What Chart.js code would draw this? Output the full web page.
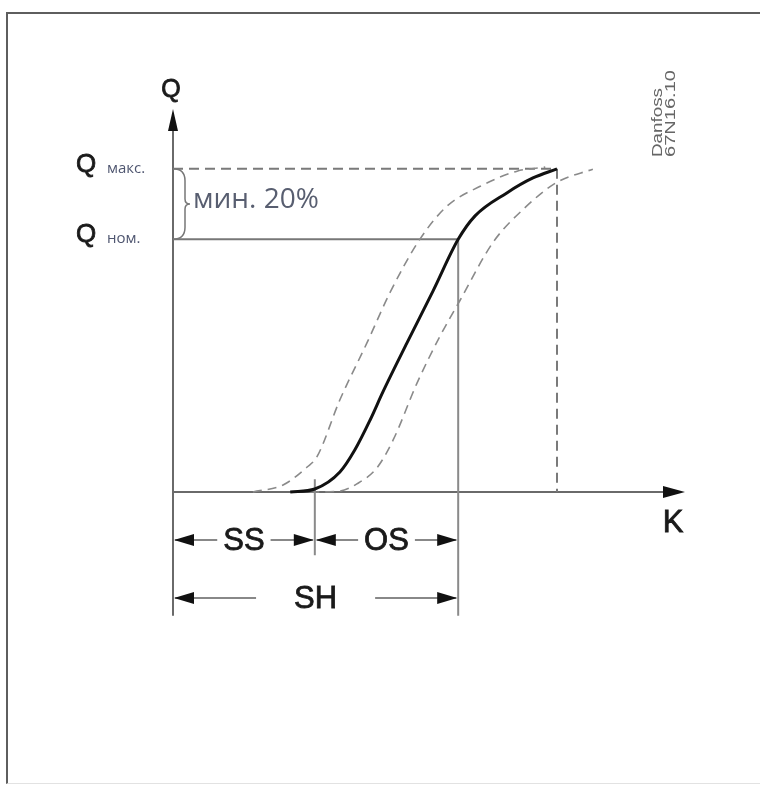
<!DOCTYPE html>
<html>
<head>
<meta charset="utf-8">
<script src="https://cdn.jsdelivr.net/npm/chart.js@4.4.1/dist/chart.umd.min.js"></script>
<style>
    html, body { margin: 0; padding: 0; background: #fff; }
    #wrap { position: relative; width: 760px; height: 785px; }
    #frame {
        position: absolute; left: 6px; top: 12px; right: -4px; bottom: 1px;
        border-left: 2px solid #5e5e5e; border-top: 2px solid #5e5e5e; border-bottom: 1px solid #e2e2e2;
    }
    canvas { position: absolute; left: 0; top: 0; }
</style>
</head>
<body>
<div id="wrap">
    <div id="frame"></div>
    <canvas id="valve_chart" width="760" height="785"></canvas>
</div>
<script>
// valve characteristic Q(K)
const nominalK = [2.29, 2.77, 3.26, 3.55, 3.85, 4.10, 4.57, 5.08, 5.57, 5.90, 6.52, 7.03, 7.50];
const nominalQ = [0.0, 0.012, 0.079, 0.166, 0.285, 0.396, 0.590, 0.796, 1.0, 1.093, 1.184, 1.243, 1.279];

const lowerK = [1.56, 2.15, 2.62, 2.81, 3.26, 3.79, 4.24, 4.82, 5.35, 6.00, 6.72, 7.27];
const lowerQ = [0.0, 0.028, 0.099, 0.139, 0.365, 0.591, 0.790, 1.0, 1.131, 1.210, 1.270, 1.286];

const upperK = [2.68, 3.26, 3.59, 3.98, 4.30, 4.77, 5.21, 5.61, 6.25, 6.84, 7.50, 8.20];
const upperQ = [0.0, 0.004, 0.032, 0.095, 0.206, 0.433, 0.615, 0.760, 0.988, 1.119, 1.226, 1.278];

// reference levels
const qNom = 1.0;
const qMax = 1.28;
const kSS = 2.77;
const kNom = 5.57;
const kMax = 7.50;

// dimension rows below the K axis (in Q units)
const rowSSOS = -0.19;
const rowSH = -0.42;
const dimBottom = -0.49;

const axisLabels = { q: 'Q', k: 'K' };
const qLevelLabels = [
    { value: qMax, sub: 'макс.' },
    { value: qNom, sub: 'ном.' }
];
const spanLabels = ['SS', 'OS', 'SH'];
const marginText = 'мин. 20%';
const stampText = ['Danfoss', '67N16.10'];

const toPoints = (xs, ys) => xs.map((x, i) => ({ x: x, y: ys[i] }));

function line(data, color, width, dash) {
    return {
        data: data,
        showLine: true,
        borderColor: color,
        borderWidth: width,
        borderDash: dash || [],
        pointRadius: 0,
        tension: 0,
        clip: false
    };
}

function arrowHead(ctx, x, y, dir, len, half) {
    ctx.beginPath();
    if (dir === 'up') {
        ctx.moveTo(x, y); ctx.lineTo(x - half, y + len); ctx.lineTo(x + half, y + len);
    } else if (dir === 'right') {
        ctx.moveTo(x, y); ctx.lineTo(x - len, y - half); ctx.lineTo(x - len, y + half);
    } else {
        ctx.moveTo(x, y); ctx.lineTo(x + len, y - half); ctx.lineTo(x + len, y + half);
    }
    ctx.closePath();
    ctx.fill();
}

// slightly heavier than regular weight, like the scanned lettering
function heavyText(ctx, text, x, y) {
    ctx.fillText(text, x, y);
    ctx.strokeStyle = ctx.fillStyle;
    ctx.lineWidth = 0.8;
    ctx.strokeText(text, x, y);
}

const annotations = {
    id: 'annotations',
    afterDatasetsDraw(chart) {
        const ctx = chart.ctx;
        const xs = chart.scales.x;
        const ys = chart.scales.y;
        const px = v => xs.getPixelForValue(v);
        const py = v => ys.getPixelForValue(v);
        const x0 = px(0);
        const bigFont = '31px "Liberation Sans"';
        ctx.save();

        // axis arrows
        ctx.fillStyle = '#111';
        arrowHead(ctx, x0, py(ys.max) + 1, 'up', 22, 5);
        arrowHead(ctx, px(xs.max), py(0), 'right', 22, 6);

        // brace between Q nom and Q max
        const top = py(qMax), bot = py(qNom), mid = (top + bot) / 2;
        ctx.strokeStyle = '#777';
        ctx.lineWidth = 1.5;
        ctx.beginPath();
        ctx.moveTo(x0, top);
        ctx.quadraticCurveTo(x0 + 12, top, x0 + 12, top + 12);
        ctx.lineTo(x0 + 12, mid - 5);
        ctx.quadraticCurveTo(x0 + 12, mid, x0 + 17, mid);
        ctx.quadraticCurveTo(x0 + 12, mid, x0 + 12, mid + 5);
        ctx.lineTo(x0 + 12, bot - 12);
        ctx.quadraticCurveTo(x0 + 12, bot, x0, bot);
        ctx.stroke();

        ctx.fillStyle = '#585e70';
        ctx.font = '28px "Open Sans"';
        ctx.textAlign = 'left';
        ctx.textBaseline = 'alphabetic';
        ctx.fillText(marginText, x0 + 20, mid + 4);

        // axis names
        ctx.fillStyle = '#1a1a1a';
        ctx.font = '25px "Liberation Sans"';
        ctx.textAlign = 'center';
        heavyText(ctx, axisLabels.q, x0 - 2, py(ys.max) - 11);
        ctx.font = bigFont;
        heavyText(ctx, axisLabels.k, px(xs.max) - 12, py(0) + 40);

        // Q level labels
        qLevelLabels.forEach(l => {
            const y = py(l.value);
            ctx.fillStyle = '#1a1a1a';
            ctx.font = '26px "Liberation Sans"';
            ctx.textAlign = 'left';
            heavyText(ctx, 'Q', 76, y + 3);
            ctx.fillStyle = '#4f5670';
            ctx.font = '15px "Open Sans"';
            ctx.fillText(l.sub, 107, y + 4);
        });

        // dimension lines
        const spans = [
            { a: 0, b: kSS, row: rowSSOS, text: spanLabels[0] },
            { a: kSS, b: kNom, row: rowSSOS, text: spanLabels[1] },
            { a: 0, b: kNom, row: rowSH, text: spanLabels[2] }
        ];
        ctx.font = bigFont;
        spans.forEach(s => {
            const xa = px(s.a), xb = px(s.b), y = py(s.row);
            const xc = (xa + xb) / 2;
            const half = ctx.measureText(s.text).width / 2 + (s.text === 'SH' ? 38 : 6);
            ctx.strokeStyle = '#888';
            ctx.lineWidth = 2;
            ctx.beginPath();
            ctx.moveTo(xa + 2, y); ctx.lineTo(xc - half, y);
            ctx.moveTo(xc + half, y); ctx.lineTo(xb - 2, y);
            ctx.stroke();
            ctx.fillStyle = '#111';
            arrowHead(ctx, xa + 1, y, 'left', 20, 6);
            arrowHead(ctx, xb - 1, y, 'right', 20, 6);
            ctx.fillStyle = '#1a1a1a';
            ctx.textAlign = 'center';
            ctx.textBaseline = 'middle';
            heavyText(ctx, s.text, xc, y + 1);
        });

        // Danfoss stamp, rotated
        ctx.fillStyle = '#666';
        ctx.font = '14px "Liberation Sans"';
        ctx.textAlign = 'left';
        ctx.textBaseline = 'alphabetic';
        const stampLen = [69, 87];
        const stampX = [662, 675];
        stampText.forEach((t, i) => {
            ctx.save();
            ctx.translate(stampX[i], 157);
            ctx.rotate(-Math.PI / 2);
            ctx.scale(stampLen[i] / ctx.measureText(t).width, 1);
            ctx.fillText(t, 0, 0);
            ctx.restore();
        });

        ctx.restore();
    }
};

document.addEventListener('DOMContentLoaded', () => {
    const ctx = document.getElementById('valve_chart').getContext('2d');

    const valveChart = new Chart(ctx, {
        type: 'scatter',
        data: {
            datasets: [
                Object.assign(line(toPoints(nominalK, nominalQ), '#111', 3), { cubicInterpolationMode: 'monotone' }),
                Object.assign(line(toPoints(lowerK, lowerQ), '#8a8a8a', 1.6, [9, 6]), { cubicInterpolationMode: 'monotone' }),
                Object.assign(line(toPoints(upperK, upperQ), '#8a8a8a', 1.6, [9, 6]), { cubicInterpolationMode: 'monotone' }),
                line([{ x: 0, y: qMax }, { x: kMax, y: qMax }], '#7a7a7a', 2, [10, 6]),
                line([{ x: kMax, y: qMax }, { x: kMax, y: 0 }], '#7a7a7a', 2, [10, 6]),
                line([{ x: 0, y: qNom }, { x: kNom, y: qNom }], '#777', 2),
                line([{ x: kNom, y: qNom }, { x: kNom, y: dimBottom }], '#8a8a8a', 2),
                line([{ x: kSS, y: 0.05 }, { x: kSS, y: rowSSOS - 0.06 }], '#8a8a8a', 2),
                line([{ x: 0, y: dimBottom }, { x: 0, y: 1.5 }], '#6a6a6a', 2),
                line([{ x: 0, y: 0 }, { x: 9.9, y: 0 }], '#6a6a6a', 2)
            ]
        },
        options: {
            responsive: false,
            animation: false,
            layout: {
                padding: { left: 173, right: 75, top: 108, bottom: 293 }
            },
            plugins: {
                legend: { display: false },
                tooltip: { enabled: false }
            },
            scales: {
                x: { type: 'linear', min: 0, max: 10, display: false },
                y: { type: 'linear', min: 0, max: 1.52, display: false }
            }
        },
        plugins: [annotations]
    });
});
</script>
</body>
</html>
